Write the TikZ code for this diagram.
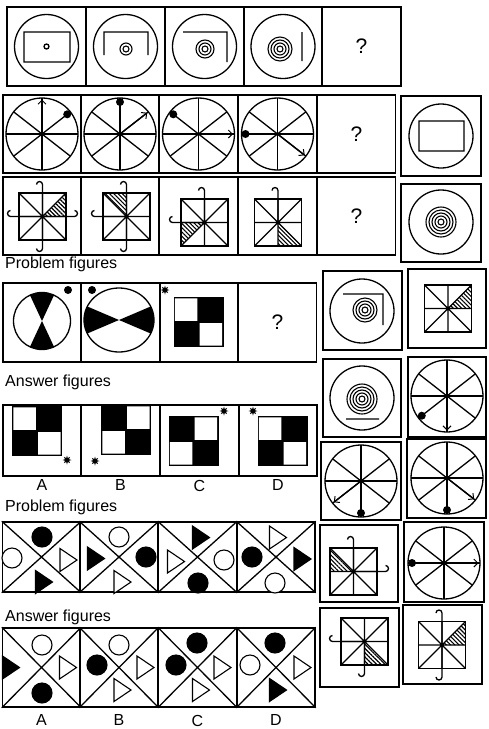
\documentclass[tikz,border=0pt]{standalone}
\usepackage{fontspec}
\setmainfont{Liberation Sans}
\usetikzlibrary{arrows.meta,positioning,shapes.geometric,patterns.meta}
\tikzset{
  pzcell/.style={
    draw=black, line width=1.5pt, inner sep=0pt,
    minimum width=78pt, minimum height=78pt, font=\fontsize{21}{24}\selectfont
  },
  pzline/.style={line width=1.3pt},
  pzthin/.style={line width=1.1pt},
  pzhatch/.style={pattern={Lines[angle=-45,distance=3pt,line width=1.1pt]}},
  pzarrow/.style={-{Straight Barb[length=4pt,width=8pt,line width=1pt]}},
  pzlabel/.style={font=\fontsize{16}{18}\selectfont,anchor=base west,inner sep=0pt},
  pzletter/.style={font=\fontsize{16}{18}\selectfont,inner sep=0pt},
  pzstar/.style={star,star points=8,star point ratio=2.2,fill=black,inner sep=0pt,minimum size=9pt},
  pzhookt/.style={insert path={-- (0,-32) arc[start angle=0,end angle=-180,radius=3]}},
  pzhookb/.style={insert path={-- (0,32) arc[start angle=0,end angle=180,radius=3]}},
  pzhookl/.style={insert path={-- (-32,0) arc[start angle=90,end angle=270,radius=3]}},
  pzhookr/.style={insert path={-- (32,0) arc[start angle=90,end angle=-90,radius=3]}},
  pzhooknone/.style={},
  pics/pzwheel/.style 2 args={code={
    \draw[pzline] (0,0) circle[radius=36];
    \foreach \a in {0,38,90,142,180,218,270,322} \draw[pzline] (0,0) -- (\a:36);
    \draw[pzline,pzarrow] (0,0) -- (#2:34.5);
    \fill (#1:32) circle[radius=4];
  }},
  pics/pzrings/.style={code={
    \foreach \k in {1,...,#1} \draw[pzthin] (0,0) circle[radius=3*\k];
  }},
  pics/pzsquare/.style 2 args={code={
    \fill[pzhatch] (0,0) -- #1 -- cycle;
    \draw[pzline] (-23.5,-23.5) rectangle (23.5,23.5);
    \draw[pzline] (-23.5,-23.5) -- (23.5,23.5) (-23.5,23.5) -- (23.5,-23.5)
      (0,-23.5) -- (0,23.5) (-23.5,0) -- (23.5,0);
    \foreach \h in {#2} \draw[pzline] (0,0) [pzhook\h];
  }},
  pics/pzcheck/.style={code={
    \fill (-25,-25) rectangle (25,25);
    \begin{scope}[xscale=#1]
      \fill[white] (-23.6,-23.6) rectangle (-1.2,-1.2) (1.2,1.2) rectangle (23.6,23.6);
    \end{scope}
  }},
  pics/pzdisc/.style={code={\draw[pzthin,fill=#1] (0,0) circle[radius=10];}},
  pics/pztri/.style={code={\draw[pzthin,fill=#1] (-8.5,-11.5) -- (8.5,0) -- (-8.5,11.5) -- cycle;}}
}

\begin{document}
\begin{tikzpicture}[x=1pt,y=-1pt]
  \fill[white] (0,0) rectangle (489,729);
  \useasboundingbox (0,0) rectangle (489,729);

  % (1) circles with frames and rings
  \node[pzcell,minimum width=79pt,minimum height=79pt] (t1) at (46.5,46.5) {};
  \node[pzcell,minimum width=79pt,minimum height=79pt] (t2) at (125.5,46.5) {};
  \node[pzcell,minimum width=79pt,minimum height=79pt] (t3) at (204.5,46.5) {};
  \node[pzcell,minimum width=79pt,minimum height=79pt] (t4) at (283,46.5) {};
  \node[pzcell,minimum width=79pt,minimum height=79pt] (t5) at (361.5,46.5) {?};
  \draw[pzline] (t1) circle[radius=32] (24,32) rectangle (70,62) (t1) circle[radius=2.5];
  \draw[pzline] (t2) circle[radius=32] (104,55) |- (148,32) -- (148,55);
  \pic at (126,49) {pzrings=2};
  \draw[pzline] (t3) circle[radius=32] (183,32) -| (227,62);
  \pic at (205,49) {pzrings=3};
  \draw[pzline] (t4) circle[radius=32] (302,32) -- (302,61);
  \pic at (280,49) {pzrings=4};

  % (2) wheels with dot and arrow
  \node[pzcell] (w1) at (42,134) {};
  \node[pzcell] (w2) at (120,134) {};
  \node[pzcell] (w3) at (198.5,134) {};
  \node[pzcell] (w4) at (277.5,134) {};
  \node[pzcell] (w5) at (356.5,134) {?};
  \pic at (w1) {pzwheel={-38}{-90}};
  \pic at (w2) {pzwheel={-90}{-38}};
  \pic at (w3) {pzwheel={-142}{0}};
  \pic at (w4) {pzwheel={180}{38}};

  % (3) hatched squares with hooks
  \node[pzcell] (h1) at (42,216) {};
  \node[pzcell] (h2) at (120,216) {};
  \node[pzcell] (h3) at (198.5,216) {};
  \node[pzcell] (h4) at (277.5,216) {};
  \node[pzcell] (h5) at (356.5,216) {?};
  \pic at (42.5,216.5) {pzsquare={(23.5,0) -- (23.5,-23.5)}{t,b,l,r}};
  \pic at (126.5,216.5) {pzsquare={(0,-23.5) -- (-23.5,-23.5)}{t,b,l}};
  \pic at (204.5,222.5) {pzsquare={(-23.5,0) -- (-23.5,23.5)}{t,l}};
  \pic at (278,222.5) {pzsquare={(0,23.5) -- (23.5,23.5)}{t}};

  % (4) problem figures: sectors and checks
  \node[pzlabel] (prob1) at (5,268) {Problem figures};
  \node[pzcell,minimum height=79pt] (p1) at (42,322.5) {};
  \node[pzcell,minimum height=79pt] (p2) at (120.5,322.5) {};
  \node[pzcell,minimum height=79pt] (p3) at (199,322.5) {};
  \node[pzcell,minimum height=79pt] (p4) at (277.5,322.5) {?};
  \fill (42,321) -- +(-65:28.5) arc[start angle=-65,end angle=-115,radius=28.5] -- cycle;
  \fill (42,321) -- +(65:28.5) arc[start angle=65,end angle=115,radius=28.5] -- cycle;
  \draw[pzline] (42,321) circle[radius=28.5];
  \fill (68,290) circle[radius=4];
  \fill (119,320) -- +(-25:35 and 32) arc[start angle=-25,end angle=25,x radius=35,y radius=32] -- cycle;
  \fill (119,320) -- +(155:35 and 32) arc[start angle=155,end angle=205,x radius=35,y radius=32] -- cycle;
  \draw[pzline] (119,320) ellipse[x radius=35,y radius=32];
  \fill (92,290) circle[radius=4];
  \pic at (198.5,322) {pzcheck=1};
  \node[pzstar] (s0) at (165,290) {};

  % (5) answer figures
  \node[pzlabel] (ans1) at (5,386) {Answer figures};
  \node[pzcell,minimum height=71pt] (a1) at (42,440.5) {};
  \node[pzcell,minimum height=71pt] (a2) at (120.5,440.5) {};
  \node[pzcell,minimum height=71pt] (a3) at (199.5,440.5) {};
  \node[pzcell,minimum height=71pt] (a4) at (278,440.5) {};
  \pic at (37,431) {pzcheck=1};
  \pic at (126,430) {pzcheck=-1};
  \pic at (193.5,441) {pzcheck=-1};
  \pic at (282.5,441) {pzcheck=1};
  \node[pzstar] (s1) at (67,460) {};
  \node[pzstar] (s2) at (95,461) {};
  \node[pzstar] (s3) at (224,411) {};
  \node[pzstar] (s4) at (253,411) {};
  \node[pzletter,below=3pt of a1] {A};
  \node[pzletter,below=3pt of a2] {B};
  \node[pzletter,below=3pt of a3] {C};
  \node[pzletter,below=3pt of a4] {D};

  % (6) problem figures: crossed cells
  \node[pzlabel] (prob2) at (5,511) {Problem figures};
  \node[pzcell,minimum height=70pt] (q1) at (41.5,557) {};
  \node[pzcell,minimum height=70pt] (q2) at (119,557) {};
  \node[pzcell,minimum height=70pt] (q3) at (197.5,557) {};
  \node[pzcell,minimum height=70pt] (q4) at (276,557) {};
  \draw[pzline] (q1.north west) -- (q1.south east) (q1.south west) -- (q1.north east);
  \draw[pzline] (q2.north west) -- (q2.south east) (q2.south west) -- (q2.north east);
  \draw[pzline] (q3.north west) -- (q3.south east) (q3.south west) -- (q3.north east);
  \draw[pzline] (q4.north west) -- (q4.south east) (q4.south west) -- (q4.north east);
  \pic at (42,537) {pzdisc=black};   \pic at (12,558) {pzdisc=white};
  \pic at (68.5,560) {pztri=white};  \pic at (44,582) {pztri=black};
  \pic at (119,537) {pzdisc=white};  \pic at (96,558.5) {pztri=black};
  \pic at (146,557) {pzdisc=black};  \pic at (122.5,582) {pztri=white};
  \pic at (201,537.5) {pztri=black}; \pic at (176,561.5) {pztri=white};
  \pic at (224,560) {pzdisc=white};  \pic at (198,583) {pzdisc=black};
  \pic at (278,537.5) {pztri=white}; \pic at (252,557) {pzdisc=black};
  \pic at (302.5,559) {pztri=black}; \pic at (275,583) {pzdisc=white};

  % (7) answer figures: crossed cells
  \node[pzlabel] (ans2) at (5,621) {Answer figures};
  \node[pzcell,minimum height=79pt] (b1) at (41.5,667.5) {};
  \node[pzcell,minimum height=79pt] (b2) at (119,667.5) {};
  \node[pzcell,minimum height=79pt] (b3) at (197.5,667.5) {};
  \node[pzcell,minimum height=79pt] (b4) at (276,667.5) {};
  \draw[pzline] (b1.north west) -- (b1.south east) (b1.south west) -- (b1.north east);
  \draw[pzline] (b2.north west) -- (b2.south east) (b2.south west) -- (b2.north east);
  \draw[pzline] (b3.north west) -- (b3.south east) (b3.south west) -- (b3.north east);
  \draw[pzline] (b4.north west) -- (b4.south east) (b4.south west) -- (b4.north east);
  \pic at (42,645) {pzdisc=white};   \pic at (11,667.5) {pztri=black};
  \pic at (68,667.5) {pztri=white};  \pic at (42,693) {pzdisc=black};
  \pic at (119,645) {pzdisc=white};  \pic at (97,665) {pzdisc=black};
  \pic at (145.5,667.5) {pztri=white}; \pic at (122.5,690) {pztri=white};
  \pic at (197,643) {pzdisc=black};  \pic at (176,665) {pzdisc=black};
  \pic at (222.5,667.5) {pztri=white}; \pic at (201,690) {pztri=white};
  \pic at (275,643) {pzdisc=black};  \pic at (250,665) {pzdisc=white};
  \pic at (302.5,667.5) {pztri=white}; \pic at (278,690) {pztri=black};
  \node[pzletter,below=7pt of b1] {A};
  \node[pzletter,below=7pt of b2] {B};
  \node[pzletter,below=7pt of b3] {C};
  \node[pzletter,below=7pt of b4] {D};

  % right column
  \node[pzcell,minimum width=80pt,minimum height=80pt] (r1) at (441,136) {};
  \draw[pzline] (r1) circle[radius=32] (419,121) rectangle (464,151);
  \node[pzcell,minimum width=80pt] (r2) at (441,223) {};
  \draw[pzline] (441,222) circle[radius=32];
  \pic at (441,222) {pzrings=5};
  \node[pzcell,minimum width=79pt,minimum height=79pt] (ra) at (362.5,310.5) {};
  \draw[pzline] (362,311) circle[radius=32] (343,294) -| (383,325);
  \pic at (365,310) {pzrings=4};
  \node[pzcell,minimum height=79pt] (rb) at (447,308.5) {};
  \pic at (448,308.5) {pzsquare={(23.5,0) -- (23.5,-23.5)}{none}};
  \node[pzcell] (rc) at (362,398) {};
  \draw[pzline] (rc) circle[radius=32] (346,419) -- (379,419);
  \pic at (362,399) {pzrings=5};
  \node[pzcell,minimum height=80pt] (rd) at (447,397) {};
  \pic at (447,396) {pzwheel={142}{90}};
  \node[pzcell,minimum width=80pt] (re) at (361,481) {};
  \pic at (re) {pzwheel={90}{142}};
  \node[pzcell,minimum width=79pt,minimum height=79pt] (rf) at (446.5,478.5) {};
  \pic at (447,478) {pzwheel={90}{38}};
  \node[pzcell,minimum height=77pt] (rg) at (359,563.5) {};
  \pic at (353.5,571.5) {pzsquare={(-23.5,-23.5) -- (-23.5,0)}{t,r}};
  \node[pzcell,minimum width=80pt,minimum height=80pt] (rh) at (444,562) {};
  \pic at (444,563) {pzwheel={180}{0}};
  \node[pzcell,minimum width=79pt,minimum height=79pt] (ri) at (359.5,647.5) {};
  \pic at (364.5,641.5) {pzsquare={(0,23.5) -- (23.5,23.5)}{l,b}};
  \node[pzcell,minimum width=79pt,minimum height=79pt] (rj) at (442.5,644.5) {};
  \pic at (442,645) {pzsquare={(23.5,0) -- (23.5,-23.5)}{t,b}};
\end{tikzpicture}
\end{document}
